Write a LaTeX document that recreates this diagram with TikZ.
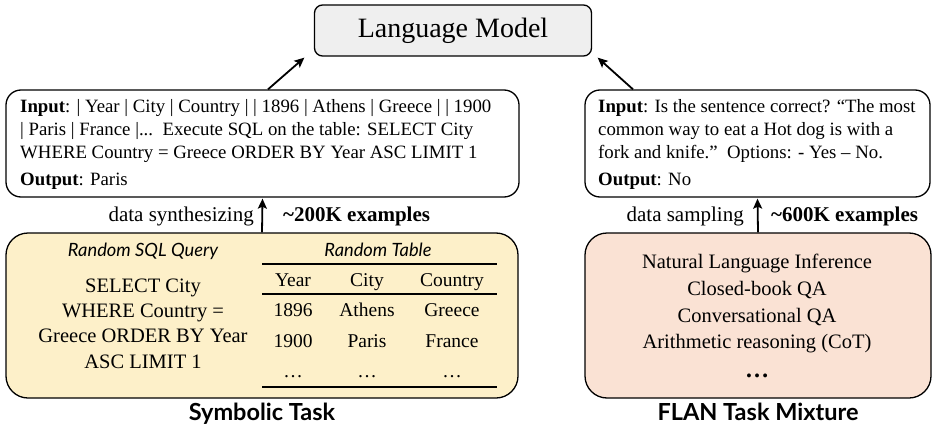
\documentclass[tikz,border=0pt]{standalone}
\usepackage{fontspec}
\setmainfont{Liberation Serif}
\newfontfamily\latofont{Lato}
\usetikzlibrary{arrows.meta}
\definecolor{lmgray}{RGB}{239,239,239}
\definecolor{symyellow}{RGB}{253,240,201}
\definecolor{flanpeach}{RGB}{250,226,212}
\begin{document}
\begin{tikzpicture}[x=1pt,y=-1pt,
  outline/.style={draw, line width=1.3pt, inner sep=0pt},
  arr/.style={-{Stealth[length=10pt,width=9pt,inset=2pt]}, line width=1.8pt},
  body/.style={inner sep=0pt, anchor=base west, font=\fontsize{18.8}{22}\selectfont},
  lbl/.style={inner sep=0pt, anchor=base west, font=\fontsize{21}{24}\selectfont},
  cbody/.style={inner sep=0pt, anchor=base, font=\fontsize{20.5}{24}\selectfont},
  tbody/.style={inner sep=0pt, anchor=base, font=\fontsize{19.5}{23}\selectfont},
  sanshead/.style={inner sep=0pt, anchor=base, font=\latofont\itshape\fontsize{18.3}{22}\selectfont},
  caption/.style={inner sep=0pt, anchor=base, font=\latofont\bfseries\fontsize{23.5}{27}\selectfont},
  rule/.style={line width=1.4pt}]
\useasboundingbox (0,0) rectangle (933,425);

% Language model
\node[outline, fill=lmgray, rounded corners=8pt, minimum width=277pt, minimum height=51pt, font=\fontsize{28}{32}\selectfont] (lm) at (453,30.5) {Language Model};

% Input boxes
\node[outline, rounded corners=15pt, minimum width=513pt, minimum height=107pt] (lin) at (262.5,143.5) {};
\node[outline, rounded corners=15pt, minimum width=345pt, minimum height=107pt] (rin) at (757.5,143.5) {};

% Source boxes
\node[outline, fill=symyellow, rounded corners=22pt, minimum width=512pt, minimum height=165pt] (bl) at (262,315.5) {};
\node[outline, fill=flanpeach, rounded corners=22pt, minimum width=346pt, minimum height=165pt] (br) at (758,315.5) {};

% arrows to LM
\draw[arr] ([xshift=5.5pt]lin.north) -- ([xshift=-9.5pt,yshift=-1pt]lm.south west);
\draw[arr] ([xshift=-124.5pt]rin.north) -- ([xshift=5.5pt,yshift=-1pt]lm.south east);

% vertical arrows
\draw[arr] (bl.north) -- ([yshift=-1pt]lin.south);
\draw[arr] (br.north) -- ([yshift=-1pt]rin.south);

\node[lbl, anchor=base east] (synth) at (254,221) {data synthesizing};
\node[lbl] (n200) at (283,221) {\textbf{{\char"007E}200K examples}};
\node[lbl, anchor=base east] (samp) at (744,221) {data sampling};
\node[lbl] (n600) at (771,221) {\textbf{{\char"007E}600K examples}};

% left input text
\node[body] (li1) at (20,113) {\textbf{Input}: | Year | City | Country | | 1896 | Athens | Greece | | 1900};
\node[body] (li2) at (20,135.5) {| Paris | France |...\ \ Execute SQL on the table: SELECT City};
\node[body] (li3) at (20,158) {WHERE Country = Greece ORDER BY Year ASC LIMIT 1};
\node[body] (lo) at (20,185) {\textbf{Output}: Paris};

% right input text
\node[body] (ri1) at (598,113) {\textbf{Input}: Is the sentence correct? “The most};
\node[body] (ri2) at (598,135.5) {common way to eat a Hot dog is with a};
\node[body] (ri3) at (598,158) {fork and knife.”\ \ Options: - Yes – No.};
\node[body] (ro) at (598,185) {\textbf{Output}: No};

% symbolic box content
\node[sanshead] (sqlh) at (143,256) {Random SQL Query};
\node[sanshead] (tabh) at (378,256) {Random Table};
\node[cbody] (s1) at (143,292) {SELECT City};
\node[cbody] (s2) at (143,317) {WHERE Country =};
\node[cbody] (s3) at (143,342) {Greece ORDER BY Year};
\node[cbody] (s4) at (143,368) {ASC LIMIT 1};

\coordinate (r1l) at (262,264); \coordinate (r1r) at (497,264);
\coordinate (r2l) at (262,294); \coordinate (r2r) at (497,294);
\coordinate (r3l) at (262,387); \coordinate (r3r) at (497,387);
\draw[rule] (r1l) -- (r1r);
\draw[rule] (r2l) -- (r2r);
\draw[rule] (r3l) -- (r3r);

\node[tbody] (h1) at (293,286) {Year};
\node[tbody] (h2) at (367,286) {City};
\node[tbody] (h3) at (452,286) {Country};
\node[tbody] (a1) at (293,316) {1896};
\node[tbody] (a2) at (367,316) {Athens};
\node[tbody] (a3) at (452,316) {Greece};
\node[tbody] (b1) at (293,347) {1900};
\node[tbody] (b2) at (367,347) {Paris};
\node[tbody] (b3) at (452,347) {France};
\node[tbody] (c1) at (293,377) {\dots};
\node[tbody] (c2) at (367,377) {\dots};
\node[tbody] (c3) at (452,377) {\dots};

% flan content
\node[cbody] (f1) at (757,268) {Natural Language Inference};
\node[cbody] (f2) at (757,295) {Closed-book QA};
\node[cbody] (f3) at (757,322) {Conversational QA};
\node[cbody] (f4) at (757,348) {Arithmetic reasoning (CoT)};
\node[cbody, font=\fontsize{24}{28}\selectfont\bfseries] (f5) at (757,377) {\dots};

% captions
\node[caption] (capl) at (262,420) {Symbolic Task};
\node[caption] (capr) at (758,420) {FLAN Task Mixture};
\end{tikzpicture}
\end{document}
